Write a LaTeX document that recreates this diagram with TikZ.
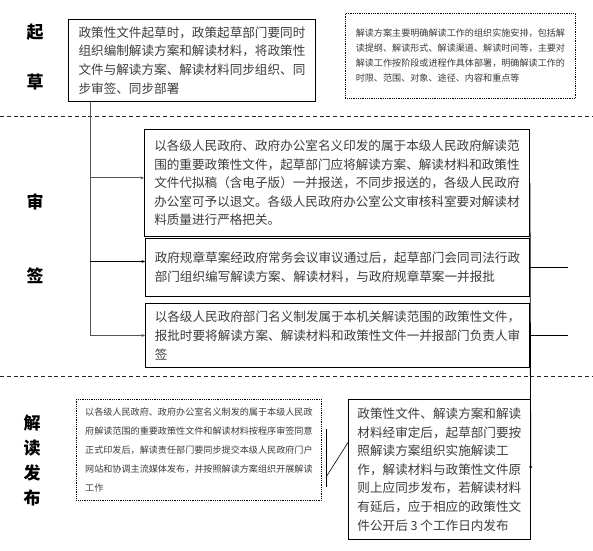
\documentclass[tikz,border=0pt]{standalone}
\usepackage{fontspec}
\setmainfont{Noto Sans CJK SC}
\usetikzlibrary{positioning, arrows.meta, calc}
\definecolor{cT}{RGB}{60,60,60}
\definecolor{cL}{RGB}{85,85,85}

\tikzset{
    stage/.style={font=\fontsize{17}{17}\selectfont\bfseries, text=black, inner sep=0pt},
    stepbox/.style={draw, line width=0.9pt, anchor=north west, align=left, text=cT,
        inner xsep=9pt, font=\fontsize{12.6}{18.6}\selectfont},
    notebox/.style={draw, densely dotted, line width=0.8pt, anchor=north west, align=left, text=cT,
        inner xsep=8.5pt, font=\fontsize{9.1}{15}\selectfont},
    phase/.style={dash pattern=on 4pt off 2.8pt, line width=0.8pt, black!85},
    feed/.style={-{Stealth[length=3.5pt, width=3pt]}, line width=1pt, cL},
}

\begin{document}
\begin{tikzpicture}[x=1pt, y=-1pt]
    \useasboundingbox (0,0) rectangle (593,550);

    % Stage labels
    \node[stage] (q1) at (35,32) {起};
    \node[stage] (q2) at (35,82) {草};
    \node[stage] (s1) at (35,202) {审};
    \node[stage] (s2) at (35,276) {签};
    \foreach \c/\y in {解/423, 读/448, 发/473, 布/498}
        \node[stage] (p\y) at (32,\y) {\c};

    % Phase separators
    \draw[phase] (0,116) -- (593,116);
    \draw[phase] (0,376) -- (593,376);

    % Drafting
    \node[stepbox, minimum width=247pt, minimum height=82pt] (draft) at (68,19)
        {政策性文件起草时，政策起草部门要同时\\组织编制解读方案和解读材料，将政策性\\文件与解读方案、解读材料同步组织、同\\步审签、同步部署};

    \node[notebox, minimum width=230pt, minimum height=85pt] (plan) at (345,13)
        {解读方案主要明确解读工作的组织实施安排，包括解\\读提纲、解读形式、解读渠道、解读时间等，主要对\\解读工作按阶段或进程作具体部署，明确解读工作的\\时限、范围、对象、途径、内容和重点等};

    % Review and signing
    \node[stepbox, minimum width=385pt, minimum height=107pt] (check) at (144,129)
        {以各级人民政府、政府办公室名义印发的属于本级人民政府解读范\\围的重要政策性文件，起草部门应将解读方案、解读材料和政策性\\文件代拟稿（含电子版）一并报送，不同步报送的，各级人民政府\\办公室可予以退文。各级人民政府办公室公文审核科室要对解读材\\料质量进行严格把关。};

    \node[stepbox, minimum width=384pt, minimum height=58pt] (rule) at (145,238)
        {政府规章草案经政府常务会议审议通过后，起草部门会同司法行政\\部门组织编写解读方案、解读材料，与政府规章草案一并报批};

    \node[stepbox, minimum width=384pt, minimum height=64pt] (dept) at (145,303)
        {以各级人民政府部门名义制发属于本机关解读范围的政策性文件，\\报批时要将解读方案、解读材料和政策性文件一并报部门负责人审\\签};

    % Release
    \node[notebox, minimum width=245pt, minimum height=101pt, font=\fontsize{9.1}{18.8}\selectfont] (release) at (76,399)
        {以各级人民政府、政府办公室名义制发的属于本级人民政\\府解读范围的重要政策性文件和解读材料按程序审签同意\\正式印发后，解读责任部门要同步提交本级人民政府门户\\网站和协调主流媒体发布，并按照解读方案组织开展解读\\工作};

    \node[stepbox, minimum width=181pt, minimum height=140pt] (publish) at (348,399)
        {政策性文件、解读方案和解读\\材料经审定后，起草部门要按\\照解读方案组织实施解读工\\作，解读材料与政策性文件原\\则上应同步发布，若解读材料\\有延后，应于相应的政策性文\\件公开后 3 个工作日内发布};

    % Left trunk with branches
    \coordinate (trunk) at ([xshift=22pt]draft.south west);
    \draw[line width=1pt, cL] (trunk) -- (trunk |- dept.west);
    \draw[feed] ([yshift=5pt]trunk |- check.west) -- ([yshift=5pt]check.west);
    \draw[feed, black] ([yshift=6pt]trunk |- rule.west) -- ([yshift=6pt]rule.west);
    \draw[feed] (trunk |- dept.west) -- (dept.west);

    % Right side
    \draw[-{Stealth[length=3.5pt, width=3pt]}, line width=0.9pt] (check.east) -- (publish.east);
    \draw[line width=0.8pt] (rule.east) -- ++(38,0);
    \draw[line width=0.8pt] (dept.east) -- ++(38,0);

    % Bracket linking the note to the release step
    \coordinate (brace) at ([xshift=5pt]release.east);
    \draw[line width=0.8pt] ([yshift=-37pt]brace) -- ([yshift=21pt]brace);
    \draw[line width=0.6pt] ([yshift=-26pt]brace) -- ([yshift=27pt]publish.west);
\end{tikzpicture}
\end{document}
